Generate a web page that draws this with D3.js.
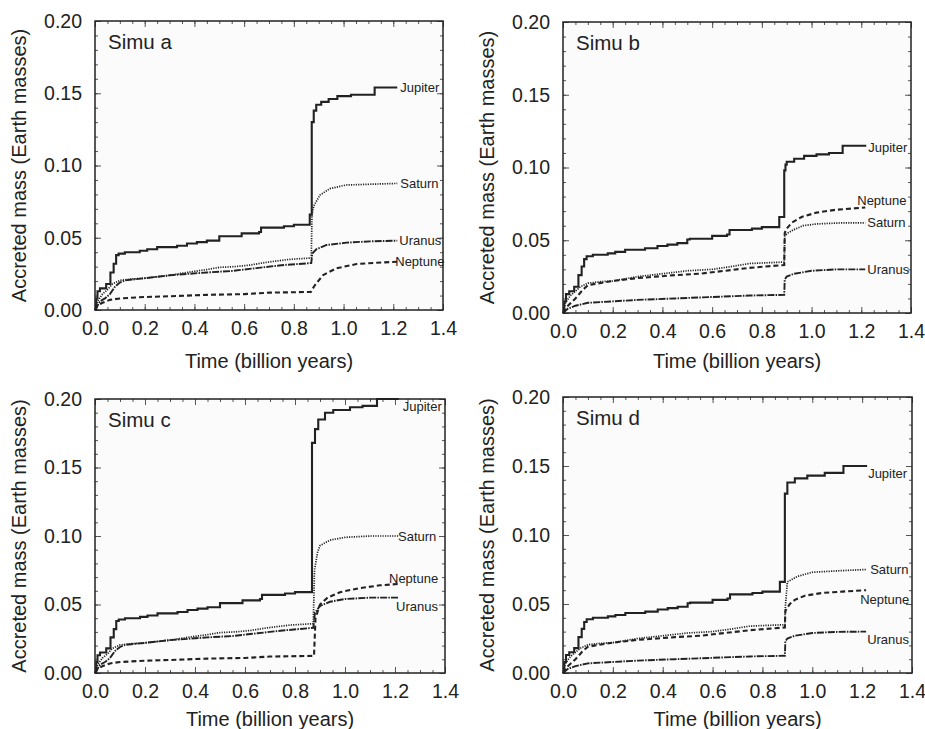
<!DOCTYPE html>
<html>
<head>
<meta charset="utf-8">
<script src="https://cdn.jsdelivr.net/npm/d3@7"></script>
<style>
  body { margin: 0; background: #fff; }
  svg text { font-family: "Liberation Sans", Arial, sans-serif; fill: #222; }
</style>
</head>
<body>
<svg id="chart" width="925" height="729"></svg>
<script>
// ---- data: [time (Gyr), accreted mass (Earth masses)] ----
var jupiterA = [[0,0],[0.005,0.008],[0.01,0.013],[0.02,0.015],[0.045,0.018],[0.062,0.026],[0.075,0.032],[0.085,0.038],[0.095,0.039],[0.12,0.040],[0.18,0.041],[0.21,0.042],[0.25,0.0435],[0.33,0.0445],[0.37,0.046],[0.41,0.047],[0.45,0.048],[0.5,0.051],[0.59,0.053],[0.66,0.054],[0.668,0.057],[0.76,0.058],[0.8,0.059],[0.864,0.066],[0.872,0.13],[0.88,0.138],[0.89,0.142],[0.91,0.144],[0.94,0.146],[0.975,0.148],[1.03,0.149],[1.125,0.154],[1.216,0.154]];
var saturnA = [[0,0],[0.01,0.006],[0.03,0.011],[0.05,0.014],[0.07,0.018],[0.1,0.0205],[0.15,0.0215],[0.2,0.022],[0.25,0.023],[0.3,0.024],[0.37,0.026],[0.45,0.028],[0.5,0.0295],[0.56,0.030],[0.62,0.031],[0.69,0.033],[0.78,0.035],[0.87,0.036],[0.873,0.066],[0.88,0.072],[0.905,0.0795],[0.945,0.084],[1.01,0.0865],[1.1,0.087],[1.216,0.0876]];
var uranusA = [[0,0],[0.02,0.006],[0.04,0.008],[0.06,0.011],[0.08,0.016],[0.1,0.019],[0.12,0.0205],[0.2,0.022],[0.3,0.024],[0.45,0.026],[0.55,0.027],[0.65,0.029],[0.75,0.031],[0.87,0.0325],[0.874,0.039],[0.89,0.042],[0.932,0.045],[1.012,0.0466],[1.106,0.0475],[1.216,0.048]];
var neptuneA = [[0,0],[0.01,0.003],[0.03,0.005],[0.06,0.007],[0.1,0.008],[0.2,0.009],[0.3,0.0095],[0.45,0.0105],[0.6,0.011],[0.7,0.012],[0.868,0.0125],[0.873,0.014],[0.885,0.0173],[0.918,0.0242],[0.972,0.0289],[1.052,0.0318],[1.133,0.0327],[1.216,0.0334]];

var jupiterB = [[0,0],[0.005,0.008],[0.012,0.013],[0.025,0.015],[0.045,0.018],[0.062,0.026],[0.075,0.032],[0.085,0.037],[0.095,0.039],[0.12,0.040],[0.18,0.041],[0.21,0.042],[0.25,0.0435],[0.33,0.0445],[0.38,0.046],[0.42,0.047],[0.46,0.048],[0.5,0.0505],[0.51,0.051],[0.6,0.053],[0.66,0.054],[0.67,0.057],[0.76,0.058],[0.8,0.059],[0.87,0.066],[0.89,0.098],[0.895,0.102],[0.9,0.104],[0.93,0.106],[0.97,0.108],[1.02,0.109],[1.07,0.11],[1.125,0.115],[1.22,0.115]];
var saturnB = [[0,0],[0.01,0.007],[0.03,0.012],[0.05,0.015],[0.07,0.018],[0.1,0.0205],[0.15,0.0215],[0.2,0.022],[0.3,0.025],[0.4,0.027],[0.5,0.029],[0.6,0.030],[0.68,0.032],[0.75,0.034],[0.89,0.035],[0.892,0.053],[0.905,0.055],[0.925,0.057],[0.965,0.060],[1.02,0.0612],[1.126,0.062],[1.216,0.062]];
var uranusB = [[0,0],[0.02,0.003],[0.05,0.005],[0.1,0.007],[0.2,0.008],[0.3,0.009],[0.45,0.010],[0.6,0.011],[0.75,0.012],[0.89,0.0125],[0.892,0.023],[0.9,0.025],[0.93,0.027],[1.0,0.029],[1.1,0.030],[1.216,0.030]];
var neptuneB = [[0,0],[0.02,0.005],[0.05,0.01],[0.08,0.016],[0.1,0.019],[0.13,0.02],[0.2,0.022],[0.3,0.024],[0.45,0.026],[0.55,0.027],[0.65,0.029],[0.75,0.031],[0.89,0.033],[0.892,0.055],[0.9,0.058],[0.92,0.062],[0.96,0.066],[1.02,0.069],[1.1,0.071],[1.216,0.0725]];

var jupiterC = [[0,0],[0.005,0.008],[0.01,0.013],[0.02,0.015],[0.045,0.018],[0.062,0.026],[0.075,0.032],[0.085,0.038],[0.095,0.039],[0.12,0.040],[0.18,0.041],[0.21,0.042],[0.25,0.0435],[0.33,0.0445],[0.37,0.046],[0.41,0.047],[0.45,0.048],[0.5,0.051],[0.59,0.053],[0.66,0.054],[0.668,0.057],[0.76,0.058],[0.8,0.059],[0.868,0.168],[0.88,0.178],[0.893,0.185],[0.92,0.19],[0.953,0.192],[1.02,0.194],[1.07,0.195],[1.128,0.2],[1.215,0.2]];
var saturnC = [[0,0],[0.01,0.006],[0.03,0.011],[0.05,0.014],[0.07,0.018],[0.1,0.0205],[0.15,0.0215],[0.2,0.022],[0.25,0.023],[0.3,0.024],[0.37,0.026],[0.45,0.028],[0.5,0.0295],[0.56,0.030],[0.62,0.031],[0.69,0.033],[0.78,0.035],[0.873,0.036],[0.878,0.075],[0.89,0.088],[0.9,0.093],[0.94,0.097],[1.0,0.099],[1.1,0.1],[1.216,0.1]];
var uranusC = [[0,0],[0.02,0.006],[0.04,0.008],[0.06,0.011],[0.08,0.016],[0.1,0.019],[0.12,0.0205],[0.2,0.022],[0.3,0.024],[0.45,0.026],[0.55,0.027],[0.65,0.029],[0.75,0.031],[0.873,0.033],[0.88,0.044],[0.9,0.049],[0.94,0.052],[1.0,0.054],[1.1,0.055],[1.216,0.055]];
var neptuneC = [[0,0],[0.01,0.003],[0.03,0.005],[0.06,0.007],[0.1,0.008],[0.2,0.009],[0.3,0.0095],[0.45,0.0105],[0.6,0.011],[0.7,0.012],[0.876,0.0125],[0.882,0.04],[0.9,0.05],[0.93,0.055],[0.98,0.059],[1.06,0.062],[1.14,0.064],[1.216,0.065]];

var jupiterD = [[0,0],[0.005,0.008],[0.012,0.013],[0.025,0.015],[0.045,0.018],[0.062,0.026],[0.075,0.032],[0.085,0.037],[0.095,0.039],[0.12,0.040],[0.18,0.041],[0.21,0.042],[0.25,0.0435],[0.33,0.0445],[0.38,0.046],[0.42,0.047],[0.46,0.048],[0.5,0.0505],[0.51,0.051],[0.6,0.053],[0.66,0.054],[0.67,0.057],[0.76,0.058],[0.8,0.059],[0.87,0.066],[0.89,0.13],[0.9,0.138],[0.93,0.141],[0.98,0.143],[1.05,0.145],[1.125,0.15],[1.22,0.15]];
var saturnD = [[0,0],[0.01,0.007],[0.03,0.012],[0.05,0.015],[0.07,0.018],[0.1,0.0205],[0.15,0.0215],[0.2,0.022],[0.3,0.025],[0.4,0.027],[0.5,0.029],[0.6,0.030],[0.68,0.032],[0.75,0.034],[0.89,0.035],[0.892,0.048],[0.9,0.066],[0.94,0.07],[1.0,0.073],[1.1,0.074],[1.216,0.075]];
var uranusD = [[0,0],[0.02,0.003],[0.05,0.005],[0.1,0.007],[0.2,0.008],[0.3,0.009],[0.45,0.010],[0.6,0.011],[0.75,0.012],[0.89,0.0125],[0.892,0.023],[0.9,0.025],[0.93,0.027],[1.0,0.029],[1.1,0.0298],[1.216,0.030]];
var neptuneD = [[0,0],[0.02,0.005],[0.05,0.01],[0.08,0.016],[0.1,0.019],[0.13,0.02],[0.2,0.022],[0.3,0.024],[0.45,0.026],[0.55,0.027],[0.65,0.029],[0.75,0.031],[0.89,0.033],[0.892,0.045],[0.91,0.05],[0.93,0.053],[0.97,0.056],[1.04,0.058],[1.12,0.059],[1.216,0.06]];

var xTicks = [0, 0.2, 0.4, 0.6, 0.8, 1.0, 1.2, 1.4];
var yTicks = [0, 0.05, 0.10, 0.15, 0.20];
var planets = ["Jupiter", "Saturn", "Uranus", "Neptune"];

// line look per planet
var lineStyle = {
  Jupiter: {w: 2.1, dash: null},
  Saturn:  {w: 1.7, dash: "1.2,1.2"},
  Uranus:  {w: 1.9, dash: "7,1.2,1.5,1.2"},
  Neptune: {w: 2.1, dash: "5,3"}
};

// panel frames + label nudges (dx, dy) for each planet label
var panels = [
  {name: "Simu a", left: 95, right: 443, top: 21, bottom: 310, titleY: 368, yTitleX: 26,
   series: {Jupiter: jupiterA, Saturn: saturnA, Uranus: uranusA, Neptune: neptuneA},
   nudge: {Jupiter: [3, 0], Saturn: [3, 0], Uranus: [2, 0], Neptune: [-2, 0]}},
  {name: "Simu b", left: 563, right: 911, top: 22, bottom: 313, titleY: 368, yTitleX: 494,
   series: {Jupiter: jupiterB, Saturn: saturnB, Uranus: uranusB, Neptune: neptuneB},
   nudge: {Jupiter: [2, 2], Saturn: [2, 0], Uranus: [2, 0], Neptune: [-8, -7]}},
  {name: "Simu c", left: 95, right: 445, top: 399, bottom: 673, titleY: 726, yTitleX: 26,
   series: {Jupiter: jupiterC, Saturn: saturnC, Uranus: uranusC, Neptune: neptuneC},
   nudge: {Jupiter: [4, 7], Saturn: [-1, 0], Uranus: [-3, 9], Neptune: [-10, -6]}},
  {name: "Simu d", left: 563, right: 912, top: 397, bottom: 673, titleY: 726, yTitleX: 494,
   series: {Jupiter: jupiterD, Saturn: saturnD, Uranus: uranusD, Neptune: neptuneD},
   nudge: {Jupiter: [1, 7], Saturn: [4, 0], Uranus: [1, 8], Neptune: [-6, 9]}}
];

var svg = d3.select("#chart");

panels.forEach(function(p) {
  var x = d3.scaleLinear().domain([0, 1.4]).range([p.left, p.right]);
  var y = d3.scaleLinear().domain([0, 0.2]).range([p.bottom, p.top]);
  var g = svg.append("g");

  g.append("rect")
    .attr("x", p.left).attr("y", p.top)
    .attr("width", p.right - p.left).attr("height", p.bottom - p.top)
    .attr("fill", "#fbfbfb");

  var minorX = d3.range(0, 1.4001, 0.05);
  var minorY = d3.range(0, 0.2001, 0.01);

  // inward ticks, all four sides
  g.append("g").attr("transform", "translate(0," + p.bottom + ")")
    .call(d3.axisBottom(x).tickValues(minorX).tickSize(-3).tickFormat(""));
  g.append("g").attr("transform", "translate(0," + p.top + ")")
    .call(d3.axisTop(x).tickValues(minorX).tickSize(-3).tickFormat(""));
  g.append("g").attr("transform", "translate(0," + p.top + ")")
    .call(d3.axisTop(x).tickValues(xTicks).tickSize(-6).tickFormat(""));
  g.append("g").attr("transform", "translate(" + p.left + ",0)")
    .call(d3.axisLeft(y).tickValues(minorY).tickSize(-3).tickFormat(""));
  g.append("g").attr("transform", "translate(" + p.right + ",0)")
    .call(d3.axisRight(y).tickValues(minorY).tickSize(-3).tickFormat(""));
  g.append("g").attr("transform", "translate(" + p.right + ",0)")
    .call(d3.axisRight(y).tickValues(yTicks).tickSize(-6).tickFormat(""));

  var xa = g.append("g").attr("class", "xaxis").attr("transform", "translate(0," + p.bottom + ")")
    .call(d3.axisBottom(x).tickValues(xTicks).tickSize(-6).tickPadding(11).tickFormat(d3.format(".1f")));
  var ya = g.append("g").attr("class", "yaxis").attr("transform", "translate(" + p.left + ",0)")
    .call(d3.axisLeft(y).tickValues(yTicks).tickSize(-6).tickPadding(13).tickFormat(d3.format(".2f")));

  g.selectAll(".domain").remove();
  g.selectAll(".tick line").attr("stroke", "#555").attr("stroke-width", 1);
  xa.selectAll("text").attr("font-size", 19.5).attr("fill", "#222");
  ya.selectAll("text").attr("font-size", 19.5).attr("fill", "#222");

  // curves
  var stepLine = d3.line().x(function(d) { return x(d[0]); }).y(function(d) { return y(d[1]); }).curve(d3.curveStepAfter);
  var plainLine = d3.line().x(function(d) { return x(d[0]); }).y(function(d) { return y(d[1]); });

  planets.slice().reverse().forEach(function(name) {
    var pts = p.series[name];
    var st = lineStyle[name];
    g.append("path")
      .datum(pts)
      .attr("d", name === "Jupiter" ? stepLine : plainLine)
      .attr("fill", "none")
      .attr("stroke", "#222")
      .attr("stroke-width", st.w)
      .attr("stroke-dasharray", st.dash);

    var last = pts[pts.length - 1];
    g.append("text")
      .attr("x", x(last[0]) + p.nudge[name][0])
      .attr("y", y(last[1]) + p.nudge[name][1])
      .attr("dy", "0.35em")
      .attr("font-size", 13)
      .text(name);
  });

  // frame
  g.append("rect")
    .attr("x", p.left).attr("y", p.top)
    .attr("width", p.right - p.left).attr("height", p.bottom - p.top)
    .attr("fill", "none").attr("stroke", "#222").attr("stroke-width", 1.5);

  g.append("text")
    .attr("x", p.left + 13).attr("y", p.top + 28)
    .attr("font-size", 20.5)
    .text(p.name);

  g.append("text")
    .attr("x", (p.left + p.right) / 2).attr("y", p.titleY)
    .attr("text-anchor", "middle")
    .attr("font-size", 20)
    .text("Time (billion years)");

  g.append("text")
    .attr("transform", "translate(" + p.yTitleX + "," + ((p.top + p.bottom) / 2) + ") rotate(-90)")
    .attr("text-anchor", "middle")
    .attr("font-size", 20)
    .text("Accreted mass (Earth masses)");
});
</script>
</body>
</html>
